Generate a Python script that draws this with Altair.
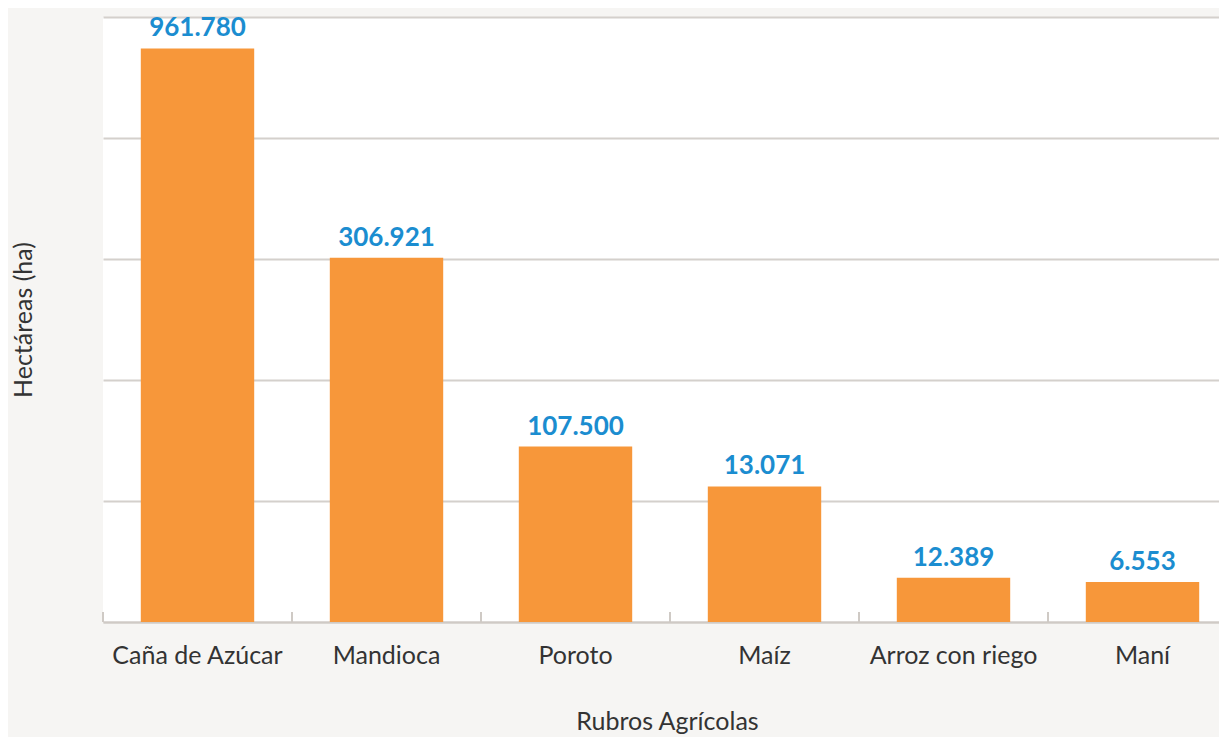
import altair as alt
import pandas as pd

# Categories and labelled values (hectares)
rubros = ["Caña de Azúcar", "Mandioca", "Poroto", "Maíz", "Arroz con riego", "Maní"]
hectareas = [961780, 306921, 107500, 13071, 12389, 6553]
etiquetas = ["961.780", "306.921", "107.500", "13.071", "12.389", "6.553"]
# Bar lengths as drawn in the original figure, in gridline units
altura_barra = [4.74, 3.01, 1.45, 1.12, 0.365, 0.33]
grid_ticks = [0, 1, 2, 3, 4, 5]

df = pd.DataFrame({
    "rubro": rubros,
    "hectareas": hectareas,
    "etiqueta": etiquetas,
    "altura": altura_barra,
})

W, H = 1134, 605
FONT = "Lato"

x_scale = alt.Scale(domain=rubros, paddingInner=0, paddingOuter=0)
y_scale = alt.Scale(domain=[0, 5], nice=False)

base = alt.Chart(df)

bars = base.mark_bar(color="#f7973a", width=alt.RelativeBandSize(0.6)).encode(
    x=alt.X("rubro:N", scale=x_scale, sort=rubros,
            axis=alt.Axis(title="Rubros Agrícolas", labelAngle=0, ticks=False,
                          domain=True, domainColor="#cfcac5", domainWidth=2,
                          labelFont=FONT, labelFontSize=25,
                          labelColor="#333333", labelPadding=21,
                          titleFont=FONT, titleFontSize=25, titleFontWeight="normal",
                          titleColor="#333333", titleY=87, titleBaseline="top",
                          titleX=564, grid=False)),
    y=alt.Y("altura:Q", scale=y_scale,
            axis=alt.Axis(title="Hectáreas (ha)", values=grid_ticks, labels=False,
                          ticks=False, domain=False, grid=True,
                          gridColor="#d4d0cc", gridWidth=2,
                          titleFont=FONT, titleFontSize=25, titleFontWeight="normal",
                          titleColor="#333333", titleX=-80, titleY=H / 2,
                          titleAngle=-90, titleAlign="center",
                          titleBaseline="middle")),
)

text = base.mark_text(font=FONT, fontSize=26, fontWeight="bold", color="#1b8dd0",
                      baseline="alphabetic", dy=-12).encode(
    x=alt.X("rubro:N", scale=x_scale, sort=rubros),
    y=alt.Y("altura:Q", scale=y_scale),
    text="etiqueta:N",
)

ticks = base.mark_rule(color="#cfcac5", strokeWidth=2).encode(
    x=alt.X("rubro:N", scale=x_scale, sort=rubros, bandPosition=0),
    y=alt.value(H),
    y2=alt.value(H - 10),
)

# the view runs past the page edge, as the original is cropped on the right
chart = alt.layer(bars, ticks, text).properties(
    width=W, height=H,
    autosize=alt.AutoSizeParams(type="none"),
    padding={"left": 95, "top": 9, "right": -18, "bottom": 115},
    background="#f6f5f3",
).configure_view(fill="white", stroke=None)

chart.save("out.html", embed_options={"renderer": "svg", "actions": False})
